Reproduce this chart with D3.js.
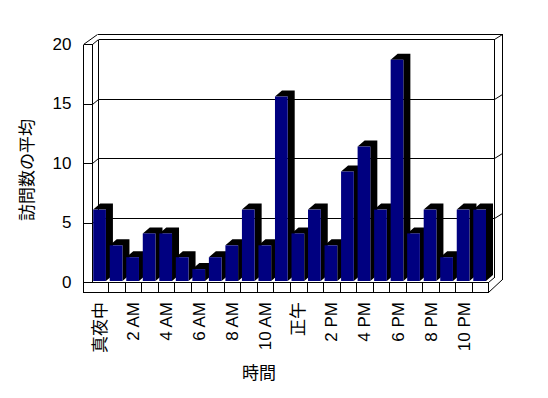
<!DOCTYPE html>
<html lang="ja">
<head>
<meta charset="UTF-8">
<title>訪問数の平均</title>
<script src="https://d3js.org/d3.v7.min.js"></script>
<style>
  body{margin:0;background:#fff}
  svg{display:block;font-family:"Liberation Sans","Noto Sans CJK JP",sans-serif}
  .ln{fill:none;stroke:#000;stroke-width:1;shape-rendering:crispEdges}
  .diag{fill:none;stroke:#000;stroke-width:1}
  text{fill:#000;font-size:17px}
</style>
</head>
<body>
<div id="chart"></div>
<script>
/* --- data --- */
const categories=["真夜中","1 AM","2 AM","3 AM","4 AM","5 AM","6 AM","7 AM","8 AM","9 AM","10 AM","11 AM",
                  "正午","1 PM","2 PM","3 PM","4 PM","5 PM","6 PM","7 PM","8 PM","9 PM","10 PM","11 PM"];
const values=[6,3,2,4,4,2,1,2,3,6,3,15.5,4,6,3,9.2,11.3,6,18.6,4,6,2,6,6];
const tickLabels=["真夜中","2 AM","4 AM","6 AM","8 AM","10 AM","正午","2 PM","4 PM","6 PM","8 PM","10 PM"];
const yTicks=[0,5,10,15,20];

/* --- layout --- */
const W=548,H=398;
const left=91.7,right=488.3,wallOut=83,floorBot=291.7;
const dx=6,dy=-5;          // depth of plot (front -> back wall)
const tx=7.4,ty=-5;        // thickness of back wall
const bdx=7,bdy=-6;        // bar depth

const x=d3.scaleBand().domain(categories).range([left,right]);
const y=d3.scaleLinear().domain([0,20]).range([282,44]);

const svg=d3.select("#chart").append("svg").attr("width",W).attr("height",H);
const line=(x1,y1,x2,y2,c)=>svg.append("line").attr("class",c||"ln")
  .attr("x1",x1).attr("y1",y1).attr("x2",x2).attr("y2",y2);
const r=v=>Math.round(v)+0.5;

/* --- walls --- */
const y0=r(y(0)),yTop=r(y(20));
const bx=r(left+dx),bxr=r(right+dx),byTop=r(y(20)+dy),byBot=r(y(0)+dy);
// left wall front face
line(r(wallOut),yTop,r(wallOut),r(floorBot));
line(r(left),yTop,r(left),y0);
line(r(wallOut),yTop,r(left),yTop);
// left wall top face
line(r(wallOut),yTop,bx-1,r(y(20)+dy+ty),"diag");
line(r(left),yTop,bx,byTop,"diag");
// back wall front face
line(bx,byTop,bxr,byTop);
line(bx,byTop,bx,byBot);
line(bxr,byTop,bxr,byBot);
// back wall outer outline
const oxr=r(right+dx+tx),oyTop=r(y(20)+dy+ty);
line(bx-1,oyTop,oxr,oyTop);
line(oxr,oyTop,oxr,r(floorBot-12.4));
line(bxr,byTop,oxr,oyTop,"diag");

/* --- gridlines + y axis --- */
yTicks.filter(v=>v>0&&v<20).forEach(v=>{
  const yf=r(y(v)),yb=r(y(v)+dy);
  line(r(left),yf,bx,yb,"diag");
  line(bx,yb,bxr,yb);
  line(bxr,yb,oxr,r(y(v)+dy+ty),"diag");
});
const yAxis=svg.append("g").attr("transform",`translate(${r(left)},0)`)
  .call(d3.axisLeft(y).tickValues(yTicks).tickSize(r(left)-r(wallOut)).tickPadding(12)
  .tickFormat(d3.format("d")));
yAxis.select(".domain").remove();
yAxis.selectAll("line").attr("stroke","#000").style("shape-rendering","crispEdges");
yAxis.selectAll("text").attr("font-size",null).style("font-size","17px").attr("fill","#000");
yAxis.attr("font-family",null).attr("font-size",null);

/* --- floor --- */
line(r(wallOut),y0,r(right),y0);
line(r(wallOut),r(floorBot),r(right),r(floorBot));
line(r(right),y0,r(right),r(floorBot));
categories.slice(1).forEach(c=>line(r(x(c)),y0,r(x(c)),r(floorBot)));
line(r(right),r(floorBot),oxr,r(floorBot-12.4),"diag");
line(r(right),y0,bxr,byBot,"diag");

/* --- bars --- */
const bw=x.bandwidth()*0.77,off=1.5,base=y(0)-1;
categories.forEach((c,i)=>{
  const x0=x(c)+off,x1=x0+bw,yt=y(values[i])-1;
  const g=svg.append("g");
  g.append("path").attr("fill","#000")
    .attr("d",`M${x1},${base}L${x1+bdx},${base+bdy}L${x1+bdx},${yt+bdy}L${x0+bdx},${yt+bdy}L${x0},${yt}L${x1},${yt}Z`);
  g.append("rect").attr("fill","#000080").attr("x",x0).attr("y",yt)
    .attr("width",bw).attr("height",base-yt);
});

/* --- x axis labels --- */
const xAxis=svg.append("g").attr("transform","translate(0,302)")
  .call(d3.axisBottom(x).tickValues(tickLabels).tickSize(0));
xAxis.select(".domain").remove();
xAxis.attr("font-family",null).attr("font-size",null);
xAxis.selectAll("text").attr("fill","#000").attr("y",0).attr("x",0).attr("dy","0.36em")
  .attr("transform","rotate(-90)").style("text-anchor","end").style("font-size","17px");

/* --- titles --- */
svg.append("text").attr("x",259).attr("y",375).attr("text-anchor","middle")
  .attr("dominant-baseline","middle").text("時間");
svg.append("text").attr("transform","translate(29,170) rotate(-90)").attr("text-anchor","middle")
  .attr("dominant-baseline","middle").text("訪問数の平均");
</script>
</body>
</html>
